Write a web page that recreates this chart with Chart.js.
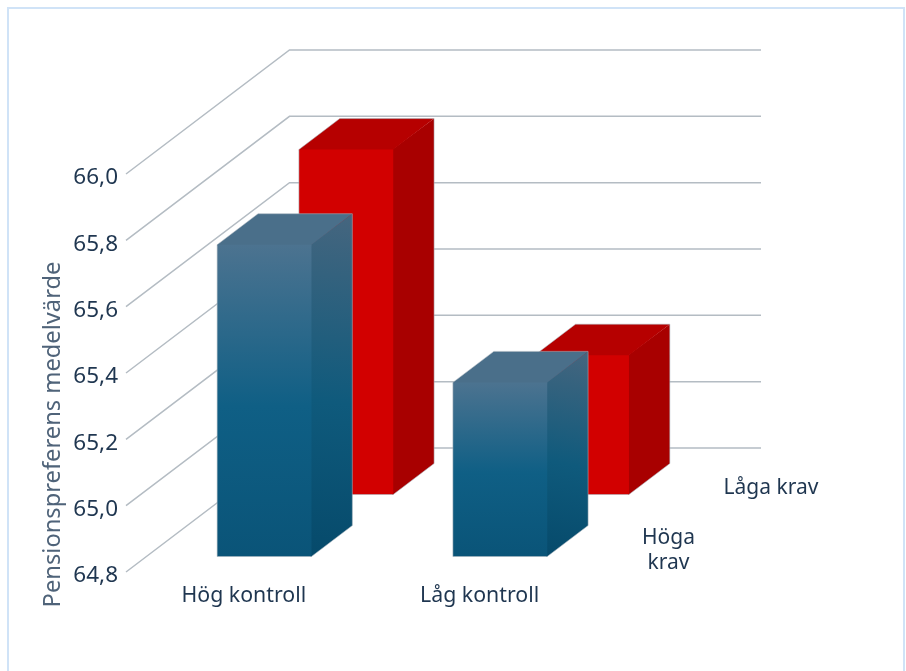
<!DOCTYPE html>
<html lang="sv">
<head>
<meta charset="utf-8">
<title>Pensionspreferens</title>
<style>
    html, body { margin: 0; padding: 0; background: #fff; overflow: hidden; }
    #frame { position: absolute; left: 7px; top: 7px; width: 894px; height: 700px; border: 2px solid #d0e3f7; }
    #wrap { position: absolute; left: 0; top: 0; width: 906px; height: 671px; }
</style>
</head>
<body>
<div id="frame"></div>
<div id="wrap"><canvas id="chart" width="906" height="671"></canvas></div>
<script src="https://cdn.jsdelivr.net/npm/chart.js@4"></script>
<script>
const categories = ['Hög kontroll', 'Låg kontroll'];
const hogaKrav = [65.74, 65.325];
const lagaKrav = [65.84, 65.22];
const yTickLabels = ['64,8', '65,0', '65,2', '65,4', '65,6', '65,8', '66,0'];
const yTitle = 'Pensionspreferens medelvärde';
const Y_MIN = 64.8;
const Y_MAX = 66.0;

const FONT = '"Noto Sans", sans-serif';
const TEXT = '#1f3650';

// depth of the whole floor, front edge to back wall
const DEPTH_X = 163.5;
const DEPTH_Y = -124;
const BAR_DEPTH = 0.25;
const WALL_RIGHT = 761;

const rows = [
    { depth: 0.125, top: '#4a6f8a', side: ['#46667f', '#0f5a7c', '#064a6b'], front: ['#4c7390', '#0f5f85', '#0a5478'] },
    { depth: 0.625, top: '#b60000', side: ['#a80000', '#a80000', '#a80000'], front: ['#d20000', '#d20000', '#d20000'] }
];

function frontFill(ctx) {
    const row = rows[ctx.datasetIndex];
    const y = ctx.chart.scales.y;
    if (ctx.raw == null || !y) return row.front[0];
    const top = y.getPixelForValue(ctx.raw);
    // scales have no pixels yet on the very first pass
    if (!isFinite(top) || !isFinite(y.bottom)) return row.front[0];
    const g = ctx.chart.ctx.createLinearGradient(0, top, 0, y.bottom);
    g.addColorStop(0, row.front[0]);
    g.addColorStop(0.52, row.front[1]);
    g.addColorStop(1, row.front[2]);
    return g;
}

function trace(ctx, pts) {
    ctx.beginPath();
    pts.forEach((p, i) => i ? ctx.lineTo(p[0], p[1]) : ctx.moveTo(p[0], p[1]));
    ctx.closePath();
}

function face(ctx, pts, fill) {
    trace(ctx, pts);
    ctx.fillStyle = fill;
    ctx.fill();
}

const box3d = {
    id: 'box3d',
    beforeDatasetsDraw(chart) {
        const { ctx, scales: { y }, chartArea } = chart;
        ctx.save();
        ctx.strokeStyle = '#b4bcc3';
        ctx.lineWidth = 1.5;
        y.ticks.forEach((t, i) => {
            const py = y.getPixelForTick(i);
            ctx.beginPath();
            ctx.moveTo(chartArea.left, py);
            ctx.lineTo(chartArea.left + DEPTH_X, py + DEPTH_Y);
            ctx.lineTo(WALL_RIGHT, py + DEPTH_Y);
            ctx.stroke();
        });
        ctx.restore();
    },
    beforeDatasetDraw(chart, args) {
        const ctx = chart.ctx;
        const row = rows[args.index];
        const dx = DEPTH_X * BAR_DEPTH;
        const dy = DEPTH_Y * BAR_DEPTH;
        ctx.save();
        ctx.translate(DEPTH_X * row.depth, DEPTH_Y * row.depth);
        args.meta.data.forEach(bar => {
            const left = bar.x - bar.width / 2;
            const right = bar.x + bar.width / 2;
            const g = ctx.createLinearGradient(right + dx, bar.y + dy, right, bar.base);
            g.addColorStop(0, row.side[0]);
            g.addColorStop(0.55, row.side[1]);
            g.addColorStop(1, row.side[2]);
            // side and top reach 1px under the front face so no seam shows
            face(ctx, [[right - 1, bar.y], [right + dx, bar.y + dy], [right + dx, bar.base + dy], [right, bar.base], [right - 1, bar.base]], g);
            face(ctx, [[left, bar.y + 1], [left, bar.y], [left + dx, bar.y + dy], [right + dx, bar.y + dy], [right, bar.y], [right, bar.y + 1]], row.top);
        });
    },
    afterDatasetDraw(chart, args) {
        const ctx = chart.ctx;
        const dx = DEPTH_X * BAR_DEPTH;
        const dy = DEPTH_Y * BAR_DEPTH;
        ctx.strokeStyle = 'rgba(170, 180, 190, 0.55)';
        ctx.lineWidth = 1;
        args.meta.data.forEach(bar => {
            const left = bar.x - bar.width / 2;
            const right = bar.x + bar.width / 2;
            trace(ctx, [[left, bar.base], [left, bar.y], [left + dx, bar.y + dy], [right + dx, bar.y + dy], [right + dx, bar.base + dy], [right, bar.base]]);
            ctx.stroke();
        });
        ctx.restore();
    },
    afterDraw(chart) {
        const ctx = chart.ctx;
        ctx.save();
        ctx.textAlign = 'center';
        ctx.textBaseline = 'middle';
        ctx.fillStyle = TEXT;
        ctx.font = '21px ' + FONT;
        ctx.fillText('Låga krav', 771, 488.5);
        ctx.fillText('Höga', 668.5, 538.5);
        ctx.fillText('krav', 668.5, 563.5);
        ctx.translate(53, 434.5);
        ctx.rotate(-Math.PI / 2);
        ctx.fillStyle = '#4f6379';
        ctx.font = '23.7px ' + FONT;
        ctx.fillText(yTitle, 0, 0);
        ctx.restore();
    }
};

new Chart(document.getElementById('chart'), {
    type: 'bar',
    data: {
        labels: categories,
        datasets: [
            { label: 'Höga krav', data: hogaKrav, base: Y_MIN, backgroundColor: frontFill, clip: false },
            { label: 'Låga krav', data: lagaKrav, base: Y_MIN, backgroundColor: frontFill, clip: false }
        ]
    },
    options: {
        responsive: false,
        animation: false,
        layout: { padding: { left: 0, top: 174, right: 308.5, bottom: 0 } },
        plugins: { legend: { display: false }, tooltip: { enabled: false } },
        datasets: { bar: { grouped: false, barPercentage: 0.4, categoryPercentage: 1 } },
        scales: {
            x: {
                grid: { display: false },
                border: { display: false },
                afterFit: s => { s.height = 99; },
                ticks: { color: TEXT, font: { family: FONT, size: 21.3 }, padding: 3, maxRotation: 0 }
            },
            y: {
                min: Y_MIN,
                max: Y_MAX,
                grid: { display: false },
                border: { display: false },
                afterFit: s => { s.width = 126; },
                ticks: {
                    stepSize: 0.2,
                    color: TEXT,
                    padding: 0,
                    labelOffset: 4,
                    font: { family: FONT, size: 22.5 },
                    callback: (v, i) => yTickLabels[i]
                }
            }
        }
    },
    plugins: [box3d]
});
</script>
</body>
</html>
